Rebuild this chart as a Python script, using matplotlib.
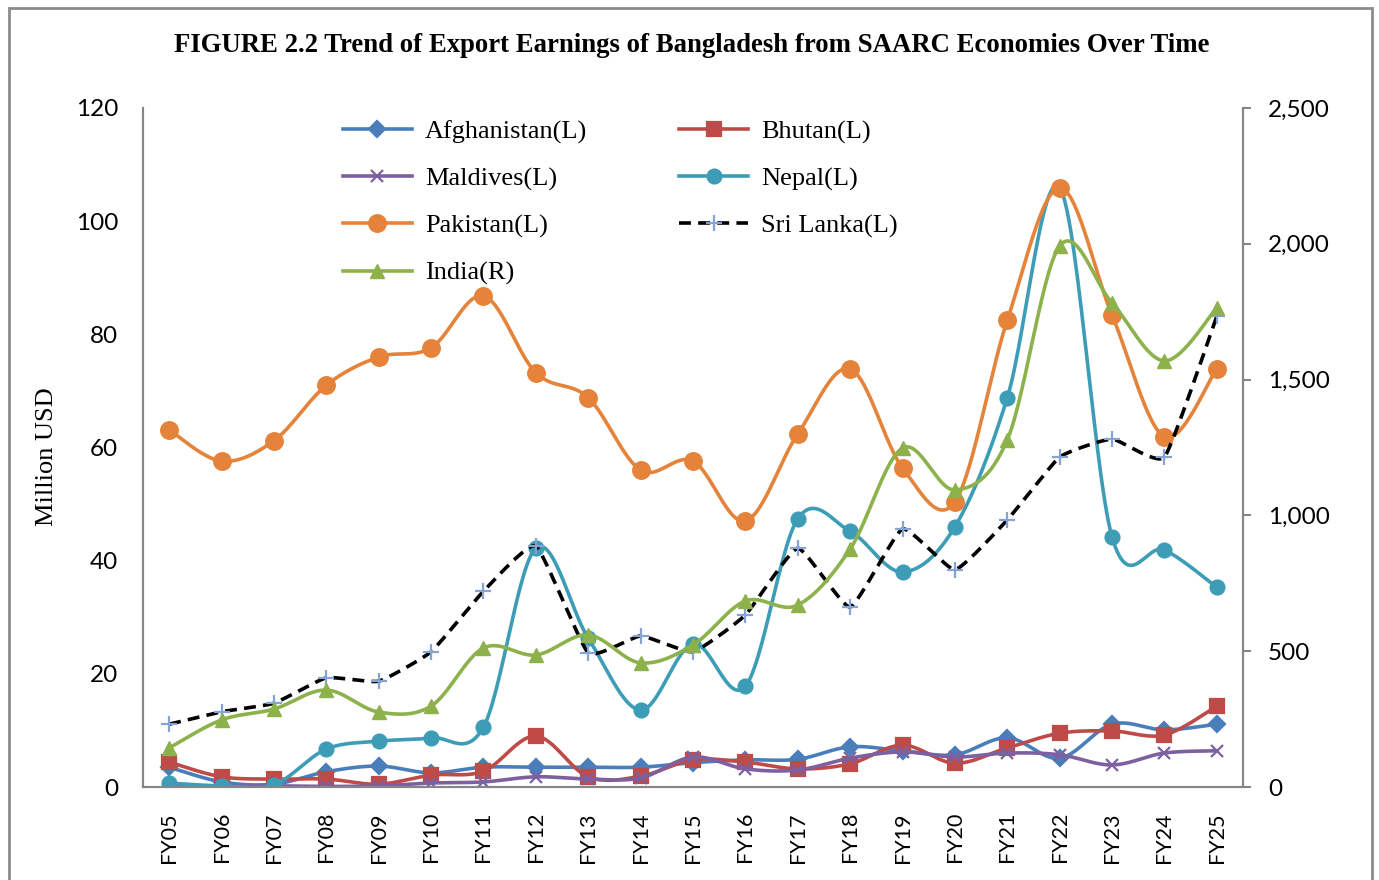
import numpy as np
import matplotlib
matplotlib.use("Agg")
import matplotlib.pyplot as plt
from matplotlib.lines import Line2D
from matplotlib.patches import Rectangle
from matplotlib.ticker import FuncFormatter

# fiscal years
years = ["FY05", "FY06", "FY07", "FY08", "FY09", "FY10", "FY11", "FY12", "FY13", "FY14",
         "FY15", "FY16", "FY17", "FY18", "FY19", "FY20", "FY21", "FY22", "FY23", "FY24", "FY25"]

# million USD, left axis
afghanistan = [3.5, 0.9, 0.5, 2.7, 3.7, 2.5, 3.5, 3.5, 3.5, 3.5, 4.3, 4.8, 4.9, 7.1, 6.4, 5.7, 8.7, 5.1, 11.1, 10.1, 11.1]
bhutan = [4.4, 1.8, 1.4, 1.4, 0.5, 2.1, 2.8, 9.0, 1.8, 1.9, 4.8, 4.4, 3.2, 4.1, 7.4, 4.2, 6.9, 9.5, 9.9, 9.2, 14.3]
maldives = [0.1, 0.1, 0.2, 0.1, 0.2, 0.7, 0.9, 1.8, 1.4, 1.6, 5.3, 3.2, 3.0, 5.1, 6.2, 5.3, 6.0, 5.7, 3.9, 6.0, 6.4]
nepal = [0.7, 0.2, 0.4, 6.7, 8.1, 8.7, 10.6, 42.2, 26.3, 13.6, 25.3, 17.8, 47.4, 45.2, 38.0, 46.0, 68.8, 105.9, 44.2, 41.9, 35.3]
pakistan = [63.1, 57.6, 61.2, 71.0, 76.0, 77.6, 86.8, 73.2, 68.8, 56.0, 57.6, 47.0, 62.4, 73.9, 56.4, 50.4, 82.5, 105.9, 83.4, 61.9, 73.9]
sri_lanka = [11.1, 13.3, 14.8, 19.3, 18.7, 23.9, 34.6, 42.6, 23.7, 26.7, 23.9, 30.4, 42.2, 31.8, 45.6, 38.4, 47.2, 58.3, 61.5, 58.3, 83.2]
# million USD, right axis
india = [144, 247, 287, 357, 276, 298, 512, 486, 560, 457, 523, 685, 670, 876, 1248, 1094, 1278, 1992, 1782, 1569, 1764]

SERIF = "Liberation Serif"
SANS = "Lato"


def smooth(y, n=30, k=6.0):
    """Excel-like smoothed line (Catmull-Rom as cubic Bezier); larger k = straighter."""
    y = np.asarray(y, dtype=float)
    x = np.arange(len(y), dtype=float)
    pts = np.column_stack([x, y])
    out = []
    t = np.linspace(0, 1, n)[:, None]
    for i in range(len(pts) - 1):
        p0 = pts[max(i - 1, 0)]
        p1 = pts[i]
        p2 = pts[i + 1]
        p3 = pts[min(i + 2, len(pts) - 1)]
        c1 = p1 + (p2 - p0) / k
        c2 = p2 - (p3 - p1) / k
        seg = ((1 - t) ** 3) * p1 + 3 * ((1 - t) ** 2) * t * c1 + 3 * (1 - t) * t ** 2 * c2 + t ** 3 * p2
        out.append(seg if i == 0 else seg[1:])
    seg = np.vstack(out)
    return seg[:, 0], seg[:, 1]


fig = plt.figure(figsize=(13.79, 8.8), dpi=100)
ax = fig.add_axes([143 / 1379, 1 - 787 / 880, 1100 / 1379, 679 / 880])
ax2 = ax.twinx()

series = [
    ("Afghanistan(L)", afghanistan, "#4A7EBB", "D", 8, "-", "#4A7EBB", 6.0),
    ("Bhutan(L)", bhutan, "#BE4B48", "s", 10, "-", "#BE4B48", 6.0),
    ("Maldives(L)", maldives, "#7D60A0", "x", 9, "-", "#7D60A0", 6.0),
    ("Nepal(L)", nepal, "#3E9DB6", "o", 10, "-", "#3E9DB6", 6.0),
    ("Pakistan(L)", pakistan, "#E5833A", "o", 12, "-", "#E5833A", 6.0),
    ("Sri Lanka(L)", sri_lanka, "black", "+", 12, (0, (3.3, 2)), "#86A3D6", 14.0),
]

handles = {}
x = np.arange(len(years))
for label, vals, color, mk, ms, ls, mcol, k in series:
    sx, sy = smooth(vals, k=k)
    ax.plot(sx, sy, color=color, lw=2.6, linestyle=ls, solid_capstyle="round")
    ax.plot(x, vals, linestyle="none", marker=mk, markersize=ms, color=mcol,
            markeredgecolor=mcol, markeredgewidth=1.6)
    handles[label] = Line2D([], [], color=color, lw=2.6, linestyle=ls, marker=mk,
                            markersize=ms, markerfacecolor=mcol, markeredgecolor=mcol,
                            markeredgewidth=1.6)

sx, sy = smooth(india)
ax2.plot(sx, sy, color="#8DB24C", lw=2.6)
ax2.plot(x, india, linestyle="none", marker="^", markersize=10, color="#8DB24C")
handles["India(R)"] = Line2D([], [], color="#8DB24C", lw=2.6, marker="^", markersize=10)

ax.set_xlim(-0.5, len(years) - 0.5)
ax.set_ylim(0, 120)
ax2.set_ylim(0, 2500)
ax.set_yticks(range(0, 121, 20))
ax2.set_yticks(range(0, 2501, 500))
ax2.yaxis.set_major_formatter(FuncFormatter(lambda v, p: f"{int(v):,}"))
ax.set_xticks(x)
ax.set_xticklabels(years, rotation=90)

for a in (ax, ax2):
    for s in a.spines.values():
        s.set_color("#868686")
        s.set_linewidth(1.5)
    a.spines["top"].set_visible(False)
ax.tick_params(axis="y", length=0, pad=18, labelsize=17.5)
ax.tick_params(axis="x", length=0, pad=18, labelsize=15.5)
ax2.tick_params(axis="y", length=6, width=1.5, color="#868686", pad=12, labelsize=17.5)
for lab in ax.get_xticklabels() + ax.get_yticklabels() + ax2.get_yticklabels():
    lab.set_fontfamily(SANS)

fig.text(691.5 / 1379, 1 - 46 / 880,
         "FIGURE 2.2 Trend of Export Earnings of Bangladesh from SAARC Economies Over Time",
         ha="center", va="center", fontsize=19.3, fontweight="bold", family=SERIF)
fig.text(47 / 1379, 1 - 457 / 880, "Million USD", rotation=90, ha="center", va="center",
         fontsize=19, family=SERIF)

order = ["Afghanistan(L)", "Maldives(L)", "Pakistan(L)", "India(R)",
         "Bhutan(L)", "Nepal(L)", "Sri Lanka(L)"]
leg = ax2.legend([handles[k] for k in order], order, ncol=2, frameon=False,
                 loc="upper left", bbox_to_anchor=(343 / 1379, 1 - 120 / 880),
                 bbox_transform=fig.transFigure, borderpad=0, borderaxespad=0,
                 handlelength=2.6, handletextpad=0.5, columnspacing=3.5,
                 labelspacing=0.88, prop={"family": SERIF, "size": 19})

fig.patches.append(Rectangle((9 / 1379, -0.05), 1363 / 1379, 1.05 - 8 / 880,
                             transform=fig.transFigure, fill=False,
                             edgecolor="#8C8C8C", linewidth=2))

fig.savefig("out.png", dpi=100)
